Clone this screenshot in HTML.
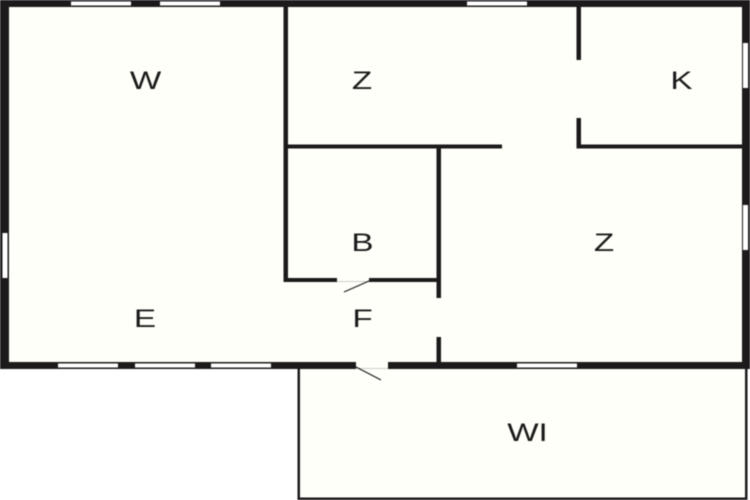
<!DOCTYPE html>
<html>
<head>
<meta charset="utf-8">
<style>
html,body{margin:0;padding:0;background:#fff;width:750px;height:500px;overflow:hidden}
svg{display:block;filter:blur(0.4px)}
text{font-family:"Liberation Sans",sans-serif;font-size:25px;fill:#1a1a1a;text-anchor:middle}
</style>
</head>
<body>
<svg width="750" height="500" viewBox="0 0 750 500" xmlns="http://www.w3.org/2000/svg">
<rect width="750" height="500" fill="#fff"/>
<rect x="0" y="0" width="750" height="369" fill="#fffff9"/>
<rect x="298" y="369" width="449" height="130" fill="#fffff9"/>
<g fill="#1c1a1b">
<!-- Outer walls -->
<rect x="0" y="0" width="750" height="7"/>
<rect x="0" y="0" width="9" height="369"/>
<rect x="742" y="0" width="8" height="369"/>
<rect x="0" y="362" width="356" height="7"/>
<rect x="388" y="362" width="362" height="7"/>
<!-- Balcony outline -->
<rect x="297.5" y="369" width="2.5" height="131"/>
<rect x="745" y="369" width="2.5" height="131"/>
<rect x="297.5" y="497.5" width="450" height="2.5"/>
<!-- Interior walls -->
<rect x="283.5" y="7" width="4.5" height="275"/>
<rect x="283.5" y="144.5" width="218.5" height="4"/>
<rect x="283.5" y="278" width="53.5" height="4"/>
<rect x="369" y="278" width="71.5" height="4"/>
<rect x="436.5" y="148" width="4.5" height="150"/>
<rect x="436.5" y="337" width="4.5" height="25"/>
<rect x="576.5" y="7" width="4.5" height="53"/>
<rect x="576.5" y="118" width="4.5" height="30"/>
<rect x="576.5" y="144.5" width="165.5" height="4"/>
</g>
<!-- Windows -->
<g fill="#fff">
<rect x="71" y="1.5" width="60" height="4"/>
<rect x="160" y="1.5" width="60" height="4"/>
<rect x="467" y="1.5" width="60" height="4"/>
<rect x="2.5" y="233" width="5" height="45"/>
<rect x="743" y="43" width="5" height="45"/>
<rect x="743" y="205" width="5" height="45"/>
<rect x="58" y="363.5" width="60" height="4"/>
<rect x="135" y="363.5" width="60" height="4"/>
<rect x="211" y="363.5" width="60" height="4"/>
<rect x="517" y="363.5" width="60" height="4"/>
</g>
<!-- Door thresholds -->
<g stroke="#cfcfc8" stroke-width="1">
<line x1="337" y1="281.5" x2="369" y2="281.5"/>
<line x1="356" y1="368.5" x2="388" y2="368.5"/>
</g>
<!-- Door leaves -->
<g stroke="#1c1a1b" stroke-width="1.2" fill="none">
<line x1="369" y1="281" x2="344" y2="292"/>
<line x1="356" y1="367" x2="381" y2="380"/>
</g>
<!-- Labels -->
<text transform="translate(145.5 89) scale(1.33 1)">W</text>
<text transform="translate(362 89) scale(1.33 1)">Z</text>
<text transform="translate(681.5 89) scale(1.33 1)">K</text>
<text transform="translate(362.5 251) scale(1.33 1)">B</text>
<text transform="translate(604 251) scale(1.33 1)">Z</text>
<text transform="translate(145 327) scale(1.33 1)">E</text>
<text transform="translate(362.5 327) scale(1.33 1)">F</text>
<text transform="translate(527.5 441) scale(1.33 1)">WI</text>
</svg>
</body>
</html>
